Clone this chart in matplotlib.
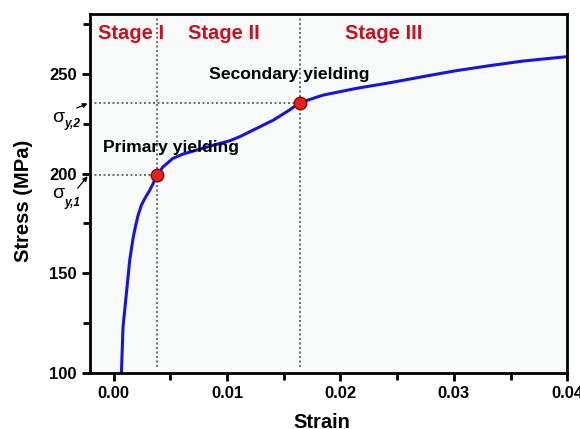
import matplotlib
matplotlib.use("Agg")
import matplotlib.pyplot as plt
from matplotlib.ticker import MultipleLocator

# curve
strain = [0.00068, 0.00082, 0.00112, 0.00141, 0.0017, 0.00194, 0.00215, 0.00244, 0.00274,
          0.00318, 0.00347, 0.0038,
          0.00435, 0.0052, 0.0061, 0.0073, 0.0088, 0.01024, 0.0111, 0.0126, 0.0141,
          0.0155, 0.01642, 0.01847, 0.02142, 0.02436, 0.0273, 0.03025, 0.0332,
          0.03613, 0.0400]
stress = [100, 123, 140, 156.5, 167.4, 174.1, 179.1, 184.2, 187.5,
          191.7, 195, 199.2,
          203.4, 207.6, 209.8, 211.8, 214.3, 216.5, 218.5, 222.7, 226.9,
          231.9, 235.6, 239.4, 242.8, 245.6, 248.7, 251.7, 254.2,
          256.5, 258.7]

yield_strain = [0.0038, 0.01642]
yield_stress = [199.2, 235.6]

stage_names = ['Stage I', 'Stage II', 'Stage III']
stage_x = [-0.0014, 0.00653, 0.0204]

plt.rcParams['font.family'] = ['Liberation Sans', 'DejaVu Sans']
plt.rcParams['font.weight'] = 'bold'

fig = plt.figure(figsize=(5.8, 4.29), dpi=100)
ax = fig.add_axes([0.155, 0.1305, 0.823, 0.8365])
ax.set_facecolor('#f8fafa')

xmin, xmax = -0.0021, 0.04
ax.set_xlim(xmin, xmax)
ax.set_ylim(100, 280)

# guide lines
dots = (0, (1.2, 1.5))
for xs in yield_strain:
    ax.plot([xs, xs], [103, 280], color='#555555', linestyle=dots, lw=1.2, zorder=1)
for xs, ys in zip(yield_strain, yield_stress):
    ax.plot([xmin, xs], [ys, ys], color='#555555', linestyle=dots, lw=1.2, zorder=1)

ax.plot(strain, stress, color='#1515dc', lw=2.2, zorder=2)
ax.plot(yield_strain, yield_stress, 'o', color='#e8201a', mec='#7a1010', mew=1, ms=9, zorder=3)

for name, sx in zip(stage_names, stage_x):
    ax.text(sx, 267.6, name, color='#cc1020', fontsize=14.5, fontweight='bold', va='baseline')

ax.text(0.00838, 247.5, 'Secondary yielding', fontsize=12.6, fontweight='bold', va='baseline')
ax.text(-0.00097, 211, 'Primary yielding', fontsize=12.6, fontweight='bold', va='baseline')

# sigma labels outside the axes with small arrows
sig_y = [228.4, 190.2]
sub_y = [224.9, 185.2]
subs = ['y,2', 'y,1']
arrow_from = [(-0.00327, 232.9), (-0.00318, 192.7)]
arrow_to = [(-0.0023, 235.2), (-0.0023, 198.7)]
for sy, by, sub, a0, a1 in zip(sig_y, sub_y, subs, arrow_from, arrow_to):
    ax.annotate('', xy=a1, xytext=a0, annotation_clip=False,
                arrowprops=dict(arrowstyle='-|>', color='black', lw=0.9, mutation_scale=7,
                                shrinkA=0, shrinkB=0))
    ax.text(-0.0054, sy, '\u03c3', fontsize=14, fontweight='normal',
            ha='left', va='center', clip_on=False)
    ax.text(-0.0043, by, sub, fontsize=8.5, fontweight='bold', style='italic',
            ha='left', va='center', clip_on=False)

ax.set_xticks([0, 0.01, 0.02, 0.03, 0.04])
ax.set_xticklabels(['0.00', '0.01', '0.02', '0.03', '0.04'])
ax.xaxis.set_minor_locator(MultipleLocator(0.005))
ax.yaxis.set_major_locator(MultipleLocator(50))
ax.yaxis.set_minor_locator(MultipleLocator(25))
ax.tick_params(which='major', direction='out', length=6, width=2, labelsize=12)
ax.tick_params(which='minor', direction='out', length=5, width=2)
for lab in ax.get_xticklabels() + ax.get_yticklabels():
    lab.set_fontweight('bold')

for sp in ax.spines.values():
    sp.set_linewidth(2)

ax.set_xlabel('Strain', fontsize=14.5, fontweight='bold')
ax.xaxis.set_label_coords(0.486, -0.111)
ax.set_ylabel('Stress (MPa)', fontsize=14.5, fontweight='bold')
ax.yaxis.set_label_coords(-0.119, 0.479)

fig.savefig('out.png', dpi=100)
